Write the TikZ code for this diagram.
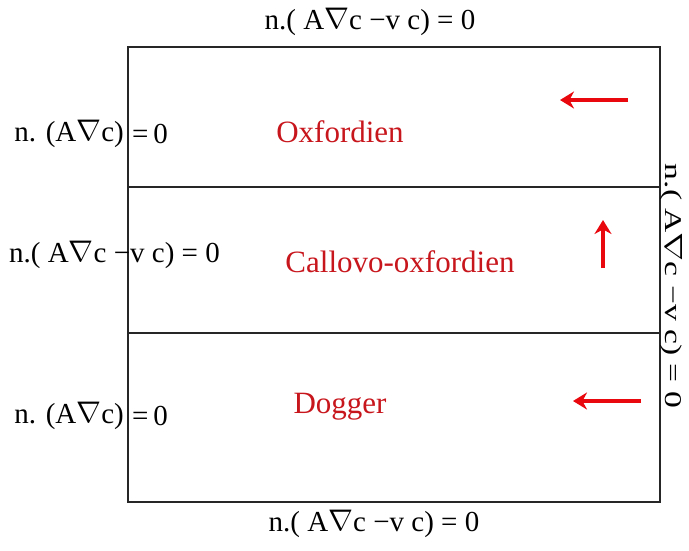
\documentclass[tikz,border=0pt]{standalone}
\usepackage{fontspec}
\setmainfont{Liberation Serif}
\definecolor{layerred}{HTML}{C8161D}
\definecolor{flowred}{HTML}{E8080E}
\definecolor{frame}{HTML}{262626}
\usetikzlibrary{arrows.meta,positioning}
\newcommand{\nab}{\raisebox{0.1ex}{\scalebox{1.2}{$\nabla$}}}

\begin{document}
\begin{tikzpicture}[x=1pt,y=-1pt]
    \useasboundingbox (0,0) rectangle (689,550);
    \tikzset{
        bc/.style={font=\fontsize{29}{32}\selectfont,inner sep=0pt},
        layer/.style={font=\fontsize{31}{34}\selectfont,text=layerred,inner sep=0pt},
        flow/.style={flowred,line width=4.5pt,-{Stealth[length=14pt,width=17pt]}}
    }
    % domain and layers
    \draw[frame,line width=1.9pt] (128,47) rectangle (660,502);
    \draw[frame,line width=1.4pt] (128,187) -- (660,187);
    \draw[frame,line width=1.4pt] (128,333) -- (660,333);
    % boundary conditions
    \node[bc] (ctop) at (370,22) {n.( A\nab c −v c) = 0};
    \node[bc] (cbot) at (374,524) {n.( A\nab c −v c) = 0};
    \node[bc,anchor=east] (cleft1) at (124,134) {n. (A\nab c)};
    \node[bc,anchor=west] (zleft1) at (132,134) {=\,0};
    \node[bc,anchor=west] (cleft2) at (9,255) {n.( A\nab c −v c) = 0};
    \node[bc,anchor=east] (cleft3) at (124,416) {n. (A\nab c)};
    \node[bc,anchor=west] (zleft3) at (132,416) {=\,0};
    \node[bc,font=\fontsize{24}{27}\selectfont,rotate=-90,xscale=1.4] (cright) at (671,286) {n.( A$\nabla$c −v c) = 0};
    % layer names
    \node[layer] (oxf) at (340,132) {Oxfordien};
    \node[layer] (cox) at (400,262) {Callovo-oxfordien};
    \node[layer] (dog) at (340,407) {Dogger};
    % flow directions
    \coordinate (f1a) at (628,100);
    \coordinate (f1b) at (560,100);
    \coordinate (f2a) at (603,268);
    \coordinate (f2b) at (603,220);
    \coordinate (f3a) at (641,401);
    \coordinate (f3b) at (573,401);
    \draw[flow] (f1a) -- (f1b);
    \draw[flow] (f2a) -- (f2b);
    \draw[flow] (f3a) -- (f3b);
\end{tikzpicture}
\end{document}
